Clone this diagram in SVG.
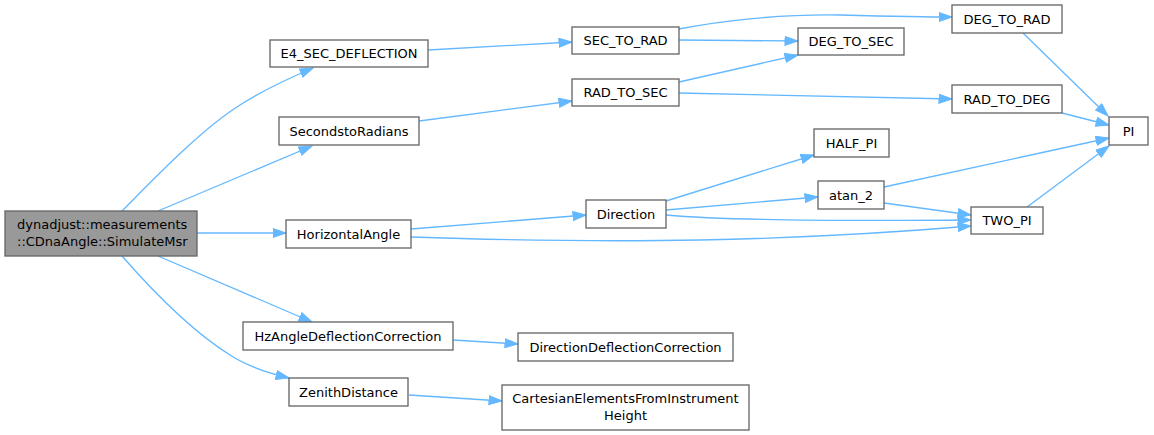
<svg xmlns="http://www.w3.org/2000/svg" width="1154" height="435" viewBox="0 0 1154 435">
<style>
.n rect{fill:#fff;stroke:#666;stroke-width:1.33}
.n.root rect{fill:#999}
.n text{font-family:"DejaVu Sans","Liberation Sans",sans-serif;font-size:13px;fill:#000;text-anchor:middle}
.e path{fill:none;stroke:#63b8ff;stroke-width:1.33;marker-end:url(#ah)}
</style>
<defs>
<marker id="ah" markerUnits="userSpaceOnUse" markerWidth="15" markerHeight="11" refX="13.5" refY="5" orient="auto">
<path d="M0.5,0.5 L13.5,5 L0.5,9.5 z" fill="#63b8ff" stroke="#63b8ff" stroke-width="1"/>
</marker>
</defs>
<g id="edges" class="e">
<path d="M122,211 C150,183 200,130 240,105 C262,91 287,79 313,68"/>
<path d="M158,211 L312,146"/>
<path d="M197,233 L286,233"/>
<path d="M158,256 L312,322"/>
<path d="M122,256 C150,288 190,330 230,355 C247,366 267,373 289,378"/>
<path d="M428,50 L572,42"/>
<path d="M419,121 L572,101"/>
<path d="M679,29 C720,21 780,14 840,15 C880,16 920,17 952,17"/>
<path d="M679,40 L798,41"/>
<path d="M679,82 L798,55"/>
<path d="M679,93 L952,99"/>
<path d="M1023,33 L1108,116"/>
<path d="M1062,113 L1109,125"/>
<path d="M884,187 L1109,138"/>
<path d="M1027,207 L1109,146"/>
<path d="M666,201 L814,155"/>
<path d="M666,210 L818,197"/>
<path d="M666,215 C720,220 850,221 971,220"/>
<path d="M884,203 L971,215"/>
<path d="M411,229 L586,215"/>
<path d="M411,237 C500,240 600,242 700,240 C800,238 900,232 971,226"/>
<path d="M453,340 L518,344"/>
<path d="M409,395 L502,401"/>
</g>
<g id="root" class="n root"><rect x="5" y="211" width="192" height="45"/><text x="17" y="229" style="text-anchor:start">dynadjust::measurements</text><text x="17" y="246" style="text-anchor:start">::CDnaAngle::SimulateMsr</text></g>
<g id="E4_SEC_DEFLECTION" class="n"><rect x="270" y="40" width="158" height="27"/><text x="349" y="58">E4_SEC_DEFLECTION</text></g>
<g id="SecondstoRadians" class="n"><rect x="279" y="117" width="140" height="28"/><text x="349" y="135.5">SecondstoRadians</text></g>
<g id="HorizontalAngle" class="n"><rect x="286" y="220" width="125" height="28"/><text x="348.5" y="238.5">HorizontalAngle</text></g>
<g id="HzAngleDeflectionCorrection" class="n"><rect x="243" y="322" width="210" height="28"/><text x="348" y="340.5">HzAngleDeflectionCorrection</text></g>
<g id="ZenithDistance" class="n"><rect x="289" y="378" width="119" height="28"/><text x="348.5" y="396.5">ZenithDistance</text></g>
<g id="SEC_TO_RAD" class="n"><rect x="572" y="27" width="107" height="27"/><text x="625.5" y="45">SEC_TO_RAD</text></g>
<g id="RAD_TO_SEC" class="n"><rect x="572" y="79" width="107" height="27"/><text x="625.5" y="97">RAD_TO_SEC</text></g>
<g id="Direction" class="n"><rect x="586" y="200" width="80" height="28"/><text x="626" y="218.5">Direction</text></g>
<g id="DirectionDeflectionCorrection" class="n"><rect x="518" y="333" width="215" height="28"/><text x="625.5" y="351.5">DirectionDeflectionCorrection</text></g>
<g id="CartesianElementsFromInstrumentHeight" class="n"><rect x="502" y="385" width="247" height="45"/><text x="625.5" y="403">CartesianElementsFromInstrument</text><text x="625.5" y="420">Height</text></g>
<g id="DEG_TO_SEC" class="n"><rect x="798" y="28" width="106" height="27"/><text x="851" y="46">DEG_TO_SEC</text></g>
<g id="HALF_PI" class="n"><rect x="814" y="129" width="75" height="28"/><text x="851.5" y="147.5">HALF_PI</text></g>
<g id="atan_2" class="n"><rect x="818" y="181" width="66" height="28"/><text x="851" y="199.5">atan_2</text></g>
<g id="DEG_TO_RAD" class="n"><rect x="952" y="5" width="110" height="28"/><text x="1007" y="23.5">DEG_TO_RAD</text></g>
<g id="RAD_TO_DEG" class="n"><rect x="952" y="85" width="110" height="28"/><text x="1007" y="103.5">RAD_TO_DEG</text></g>
<g id="TWO_PI" class="n"><rect x="971" y="207" width="72" height="27"/><text x="1007" y="225">TWO_PI</text></g>
<g id="PI" class="n"><rect x="1109" y="117" width="39" height="28"/><text x="1128.5" y="135.5">PI</text></g>
</svg>
